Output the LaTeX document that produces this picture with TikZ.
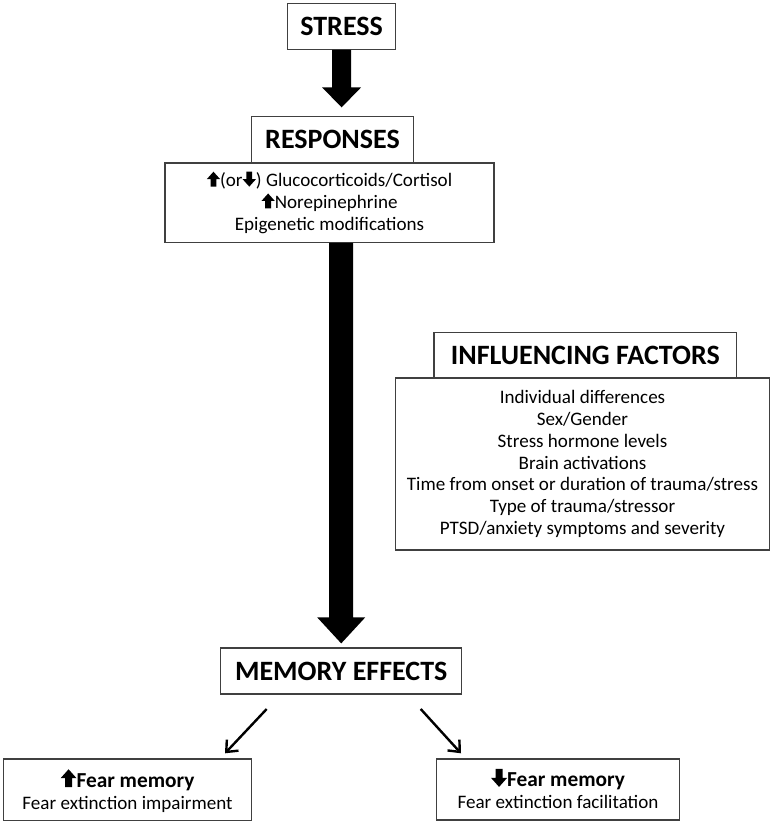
\documentclass[tikz,border=0pt]{standalone}
\usepackage{fontspec}
\setmainfont{Carlito}
\usetikzlibrary{arrows.meta,calc}
\newcommand\glyphup[1]{\tikz[x=#1,y=#1,baseline=0pt]\fill (0.28,0) -- (0.28,0.56) -- (0,0.56) -- (0.5,1.12) -- (1,0.56) -- (0.72,0.56) -- (0.72,0) -- cycle;}
\newcommand\glyphdown[1]{\tikz[x=#1,y=#1,baseline=0pt]\fill (0.28,1.12) -- (0.28,0.56) -- (0,0.56) -- (0.5,0) -- (1,0.56) -- (0.72,0.56) -- (0.72,1.12) -- cycle;}
\begin{document}
\begin{tikzpicture}[x=0.75pt,y=-0.75pt,
  box/.style={draw=black!75, line width=0.9pt, fill=white, inner sep=0pt, align=center},
  titlebox/.style={box, font=\fontsize{21}{25}\selectfont\bfseries},
  listbox/.style={box, font=\fontsize{14.3}{16.35}\selectfont},
  thinarrow/.style={line width=1.8pt, -{Straight Barb[length=7pt,width=12pt]}}]
\fill[white] (0,0) rectangle (774,824);
\useasboundingbox (0,0) rectangle (774,824);

\node[titlebox, minimum width=81pt, minimum height=34.5pt] (stress) at (341.6,26.3) {STRESS};
\node[titlebox, minimum width=121.2pt, minimum height=34.4pt] (responses) at (332.5,139.6) {RESPONSES};
\node[listbox, minimum width=246.8pt, minimum height=59.5pt] (resplist) at (329.5,202.6)
  {\glyphup{10pt}(or\glyphdown{10pt}) Glucocorticoids/Cortisol\\
   \glyphup{10pt}Norepinephrine\\
   Epigenetic modifications};

\node[titlebox, minimum width=227pt, minimum height=34.3pt] (infl) at (585.3,355.1) {INFLUENCING FACTORS};
\node[listbox, minimum width=280.2pt, minimum height=129pt] (infllist) at (582.5,464)
  {Individual differences\\
   Sex/Gender\\
   Stress hormone levels\\
   Brain activations\\
   Time from onset or duration of trauma/stress\\
   Type of trauma/stressor\\
   PTSD/anxiety symptoms and severity};

\node[titlebox, minimum width=180.8pt, minimum height=34.5pt] (memory) at (341.2,671) {MEMORY EFFECTS};

\node[listbox, minimum width=186.3pt, minimum height=46.3pt, text depth=1pt] (left) at (127.5,789.8)
  {{\fontsize{16}{19}\selectfont\bfseries\glyphup{12pt}Fear memory}\\
   Fear extinction impairment};
\node[listbox, minimum width=182pt, minimum height=45.8pt, text depth=1pt] (right) at (558,789.5)
  {{\fontsize{16}{19}\selectfont\bfseries\glyphdown{12pt}Fear memory}\\
   Fear extinction facilitation};

% big arrow 1
\path (stress.south) coordinate (a1s) (stress.south |- responses.north) coordinate (a1e);
\fill ($(a1s)+(-9.5,0)$) -- ($(a1e)+(-9.5,-28.7)$) -- ($(a1e)+(-19.5,-28.7)$) -- ($(a1e)+(0,-8.7)$)
  -- ($(a1e)+(19.5,-28.7)$) -- ($(a1e)+(9.5,-28.7)$) -- ($(a1s)+(9.5,0)$) -- cycle;
% big arrow 2
\path (memory.north |- resplist.south) coordinate (a2s) (memory.north) coordinate (a2e);
\fill ($(a2s)+(-12,0)$) -- ($(a2e)+(-12,-30)$) -- ($(a2e)+(-24,-30)$) -- ($(a2e)+(0,-4)$)
  -- ($(a2e)+(24,-30)$) -- ($(a2e)+(12,-30)$) -- ($(a2s)+(12,0)$) -- cycle;

% thin arrows
\coordinate (l1) at (266.7,709);
\coordinate (l2) at (225,753.3);
\coordinate (r1) at (420.7,709);
\coordinate (r2) at (461,753.3);
\draw[thinarrow] (l1) -- (l2);
\draw[thinarrow] (r1) -- (r2);
\end{tikzpicture}
\end{document}
